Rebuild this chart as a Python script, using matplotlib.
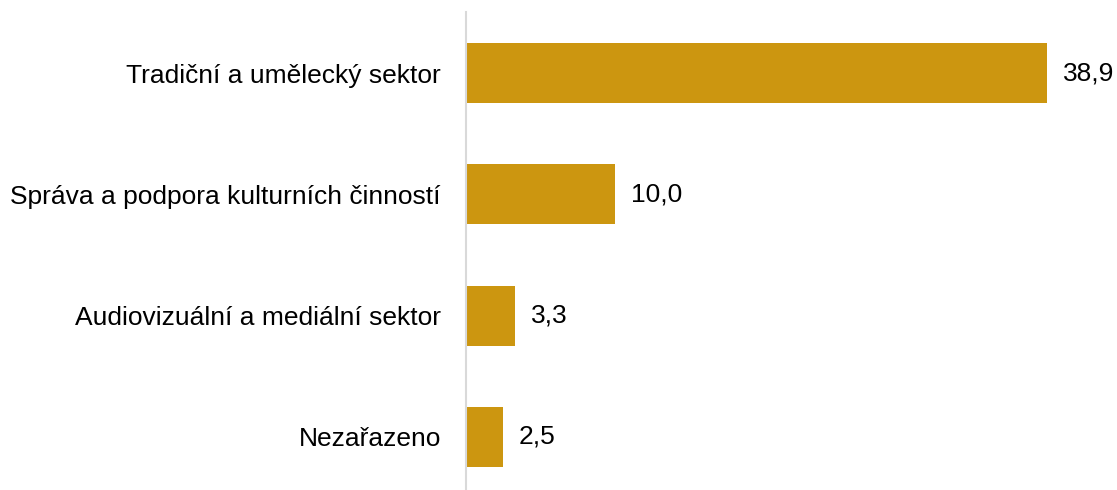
import matplotlib.pyplot as plt

categories = ['Tradiční a umělecký sektor', 'Správa a podpora kulturních činností',
              'Audiovizuální a mediální sektor', 'Nezařazeno']
values = [38.9, 10.0, 3.3, 2.5]
value_labels = ['38,9', '10,0', '3,3', '2,5']

plt.rcParams['font.family'] = ['Liberation Sans', 'DejaVu Sans']

fig = plt.figure(figsize=(11.17, 4.90), dpi=100)
# axes from x=466px to right edge, y from 12px to bottom
ax = fig.add_axes([466 / 1117, 0, 1 - 466 / 1117, (490 - 12) / 490])

pos = list(range(len(categories)))
ax.barh(pos, values, height=0.495, color='#CC9610')
ax.set_ylim(3.437, -0.503)
ax.set_xlim(0, 651 / 14.94)

for p, v, lab in zip(pos, values, value_labels):
    ax.text(v + 1.05, p, lab, va='center', ha='left', fontsize=19, color='black')

ax.set_yticks(pos)
ax.set_yticklabels(categories, fontsize=19)
ax.tick_params(axis='y', length=0, pad=18)
ax.set_xticks([])
for s in ['top', 'right', 'bottom']:
    ax.spines[s].set_visible(False)
ax.spines['left'].set_color('#D9D9D9')
ax.spines['left'].set_linewidth(1.5)

fig.savefig('out.png', dpi=100)
